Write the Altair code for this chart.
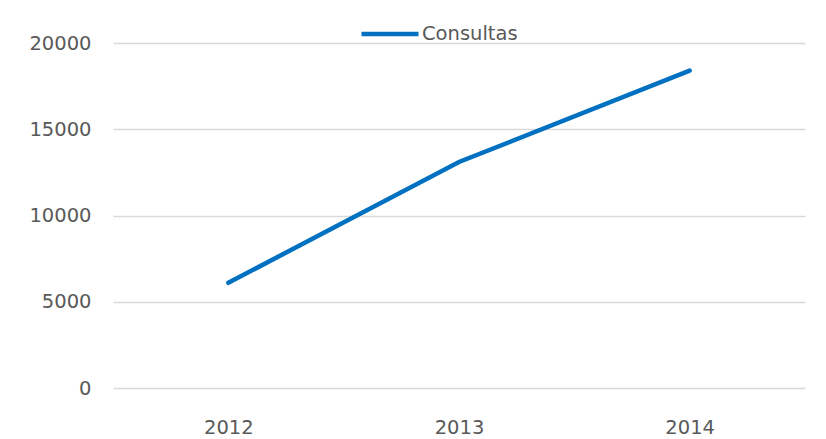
import altair as alt
import pandas as pd

years = ["2012", "2013", "2014"]
consultas = [6100, 13100, 18400]
series_name = "Consultas"

df = pd.DataFrame({"Año": years, "Valor": consultas, "Serie": [series_name] * len(years)})

FONT = "DejaVu Sans"
GRAY = "#595959"

chart = (
    alt.Chart(df)
    .mark_line(strokeWidth=4.5, color="#0070C0", strokeCap="round")
    .encode(
        x=alt.X(
            "Año:N",
            sort=years,
            scale=alt.Scale(type="point", padding=0.5),
            axis=alt.Axis(
                title=None, labelAngle=0, ticks=False, domain=False, grid=False,
                labelPadding=30, labelFontSize=19.5, labelColor=GRAY, labelFont=FONT,
            ),
        ),
        y=alt.Y(
            "Valor:Q",
            scale=alt.Scale(domain=[0, 20000], nice=False),
            axis=alt.Axis(
                title=None, values=[0, 5000, 10000, 15000, 20000], format="d",
                ticks=False, domain=False, gridColor="#D9D9D9", gridWidth=1.3,
                labelPadding=22, labelFontSize=19.5, labelColor=GRAY, labelFont=FONT,
            ),
        ),
        color=alt.Color(
            "Serie:N",
            scale=alt.Scale(range=["#0070C0"]),
            legend=alt.Legend(
                title=None, orient="none", legendX=246, legendY=-40,
                symbolType="stroke", symbolSize=3249, symbolStrokeWidth=4.5,
                labelFontSize=19.5, labelColor=GRAY, labelFont=FONT, labelOffset=1,
                padding=0,
            ),
        ),
    )
    .properties(
        width=692, height=345,
        autosize=alt.AutoSizeParams(type="none"),
        padding={"left": 105, "top": 35, "right": 13, "bottom": 50},
    )
    .configure(background="white")
    .configure_view(stroke=None, strokeWidth=0)
)

chart.save("out.html", embed_options={"renderer": "svg", "actions": False})
